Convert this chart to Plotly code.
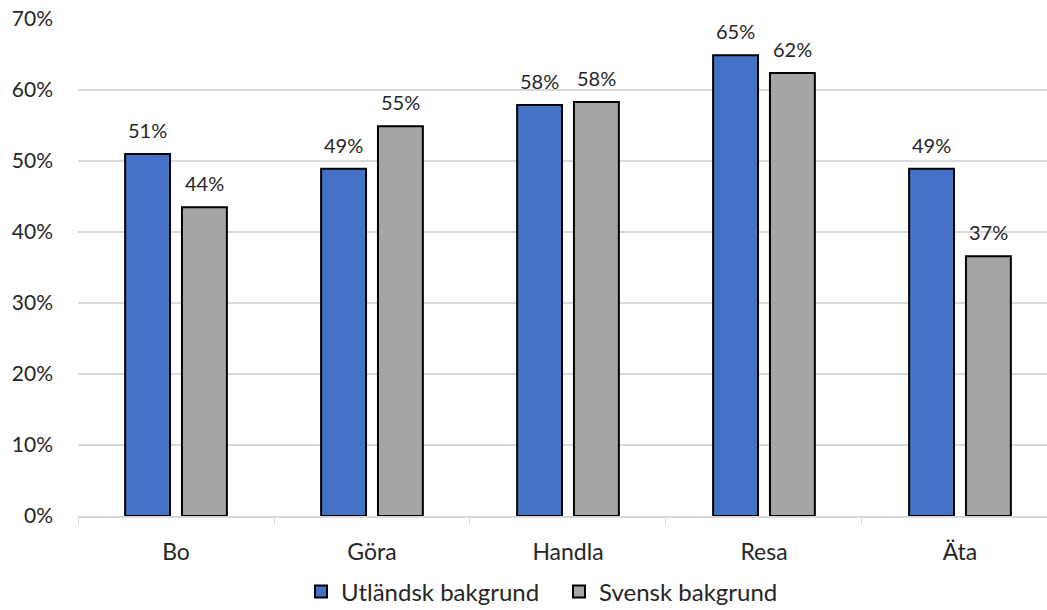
import plotly.graph_objects as go

categories = ["Bo", "Göra", "Handla", "Resa", "Äta"]
utlandsk = [0.51, 0.489, 0.579, 0.649, 0.489]
svensk = [0.435, 0.549, 0.583, 0.624, 0.366]
series_names = ["Utländsk bakgrund", "Svensk bakgrund"]
tick_vals = [0, 0.1, 0.2, 0.3, 0.4, 0.5, 0.6, 0.7]
tick_text = ["0%", "10%", "20%", "30%", "40%", "50%", "60%", "70%"]

FONT = "Lato"
TXT = "#262626"
SLOT = 28.5  # half distance between bar centres, px

fig = go.Figure()
fig.add_trace(go.Bar(
    x=categories, y=utlandsk, name=series_names[0],
    marker=dict(color="#4472c4", line=dict(color="black", width=2)),
))
fig.add_trace(go.Bar(
    x=categories, y=svensk, name=series_names[1],
    marker=dict(color="#a5a5a5", line=dict(color="black", width=2)),
))

annotations = []
for vals, shift in ((utlandsk, -SLOT), (svensk, SLOT)):
    for c, v in zip(categories, vals):
        annotations.append(dict(
            x=c, y=v, xref="x", yref="y", text=f"{round(v * 100)}%",
            showarrow=False, xshift=shift, yshift=10, yanchor="bottom",
            font=dict(family=FONT, size=20, color=TXT),
        ))

fig.update_layout(
    width=1047, height=610,
    margin=dict(l=78, r=0, t=19, b=94, autoexpand=False),
    paper_bgcolor="white", plot_bgcolor="white",
    barmode="group", bargap=0.42, bargroupgap=0.21,
    font=dict(family=FONT, size=21, color=TXT),
    showlegend=True,
    legend=dict(
        orientation="h", xref="container", yref="container",
        x=0.2875, xanchor="left", y=0.0295, yanchor="middle",
        font=dict(family=FONT, size=24, color=TXT),
        itemwidth=30, entrywidth=213, entrywidthmode="pixels",
        traceorder="normal",
    ),
    annotations=annotations,
)
fig.update_xaxes(
    range=[-0.5, 4.444], type="category",
    showline=True, linecolor="#d9d9d9", linewidth=1.5,
    ticks="outside", tickson="boundaries", ticklen=7, tickcolor="#d9d9d9",
    showgrid=False, ticklabelstandoff=15,
    tickfont=dict(family=FONT, size=23, color=TXT),
)
fig.update_yaxes(
    range=[0, 0.7], tickvals=tick_vals, ticktext=tick_text,
    showgrid=True, gridcolor="#d9d9d9", gridwidth=1.5,
    zeroline=False, showline=False, ticks="", ticklabelstandoff=24,
    tickfont=dict(family=FONT, size=21, color=TXT),
)

fig.write_html(
    "out.html",
    config={"displayModeBar": False},
    post_script="document.body.style.margin='0px';",
)
